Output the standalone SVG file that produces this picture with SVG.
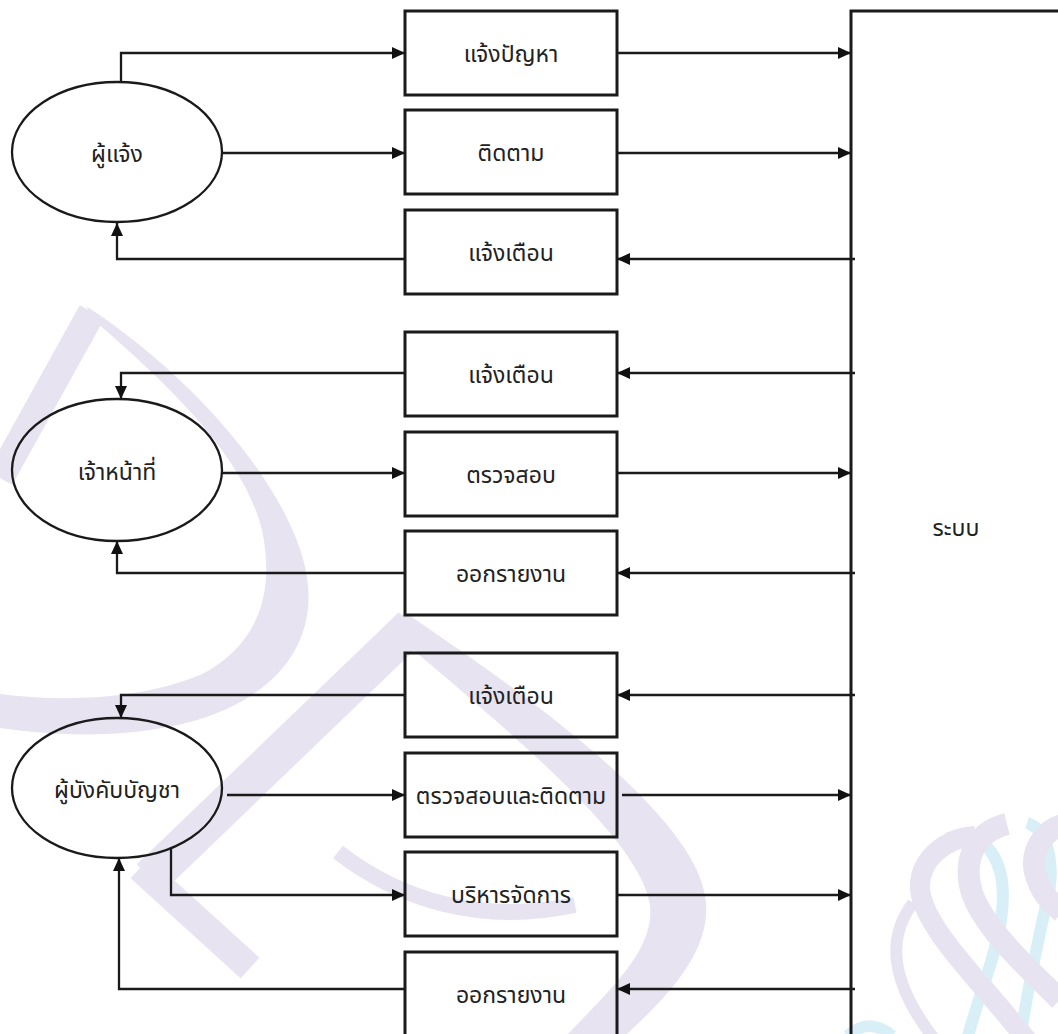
<svg xmlns="http://www.w3.org/2000/svg" width="1058" height="1034" viewBox="0 0 1058 1034">
<defs>
<marker id="ah" markerUnits="userSpaceOnUse" markerWidth="13" markerHeight="12" refX="13" refY="6" orient="auto"><path d="M0,0 L13,6 L0,12 Z" fill="#111"/></marker>
<style>
.box{fill:none;stroke:#1a1a1a;stroke-width:3}
.ell{fill:none;stroke:#1a1a1a;stroke-width:2.3}
.cn{fill:none;stroke:#1a1a1a;stroke-width:2.3}
.t{font-family:"Noto Sans Thai","Leelawadee UI",Tahoma,"Noto Sans","DejaVu Sans",sans-serif;font-size:23px;fill:#222;text-anchor:middle}
.wp{fill:#e7e3f0}
.ws{fill:none;stroke:#e7e3f0;stroke-linecap:butt}
.wc{fill:none;stroke:#d9eff8;stroke-linecap:butt}
</style>
</defs>
<rect width="1058" height="1034" fill="#ffffff"/>
<g id="watermark">
<path class="wp" d="M86 306 C200 380 300 500 308 585 C314 650 270 700 190 722 C120 740 50 735 0 728 L0 694 C60 702 140 700 200 675 C260 645 275 590 262 530 C245 460 175 390 96 322 Z"/>
<path class="ws" stroke-width="28" d="M92 312 L0 478"/>
<path class="wp" d="M404 612 C520 690 690 810 705 895 C715 950 665 1000 620 1040 L562 1040 C610 990 655 950 650 905 C640 840 520 740 392 632 Z"/>
<path class="ws" stroke-width="38" d="M412 626 L150 878"/>
<path class="ws" stroke-width="28" d="M140 868 L250 968"/>
<path class="ws" stroke-width="16" d="M338 852 C400 900 480 925 575 905"/>
<path class="wc" stroke-width="12" d="M948 838 C985 828 1010 860 1001 920 C995 960 977 1000 967 1040"/>
<path class="wc" stroke-width="12" d="M1027 823 C1050 830 1056 870 1046 905 C1036 950 1026 1000 1020 1040"/>
<path class="wc" stroke-width="12" d="M848 1036 C860 1024 876 1022 892 1036"/>
<path class="ws" stroke-width="12" d="M913 903 C885 940 892 985 935 1040"/>
<path class="ws" stroke-width="20" d="M1027 1040 C980 980 925 930 920 890 C918 860 945 838 975 836"/>
<path class="ws" stroke-width="22" d="M1007 824 C975 832 962 860 972 893 C985 930 1030 970 1060 1000"/>
<path class="ws" stroke-width="22" d="M1062 825 C1045 830 1030 850 1035 872 C1040 892 1050 902 1062 912"/>
</g>
<g id="connectors">
<path class="cn" d="M121 82 V53 H405" marker-end="url(#ah)"/>
<path class="cn" d="M222 153 H405" marker-end="url(#ah)"/>
<path class="cn" d="M405 259 H117 V223" marker-end="url(#ah)"/>
<path class="cn" d="M617 53 H851" marker-end="url(#ah)"/>
<path class="cn" d="M617 153 H851" marker-end="url(#ah)"/>
<path class="cn" d="M855 259 H617" marker-end="url(#ah)"/>
<path class="cn" d="M405 373 H121 V399" marker-end="url(#ah)"/>
<path class="cn" d="M222 473 H405" marker-end="url(#ah)"/>
<path class="cn" d="M405 573 H117 V541" marker-end="url(#ah)"/>
<path class="cn" d="M855 373 H617" marker-end="url(#ah)"/>
<path class="cn" d="M617 473 H851" marker-end="url(#ah)"/>
<path class="cn" d="M855 573 H617" marker-end="url(#ah)"/>
<path class="cn" d="M405 695 H121 V718" marker-end="url(#ah)"/>
<path class="cn" d="M227 795 H405" marker-end="url(#ah)"/>
<path class="cn" d="M171 848 V895 H405" marker-end="url(#ah)"/>
<path class="cn" d="M405 989 H119 V858" marker-end="url(#ah)"/>
<path class="cn" d="M855 695 H617" marker-end="url(#ah)"/>
<path class="cn" d="M622 795 H851" marker-end="url(#ah)"/>
<path class="cn" d="M617 895 H851" marker-end="url(#ah)"/>
<path class="cn" d="M855 989 H617" marker-end="url(#ah)"/>
</g>
<g id="system"><rect class="box" x="851" y="11" width="300" height="1100"/><text class="t" x="956" y="536">ระบบ</text></g>
<g id="user"><ellipse class="ell" cx="117" cy="152" rx="105" ry="70"/><text class="t" x="117" y="162">ผู้แจ้ง</text></g>
<g id="officer"><ellipse class="ell" cx="117" cy="470" rx="105" ry="71"/><text class="t" x="117" y="480">เจ้าหน้าที่</text></g>
<g id="commander"><ellipse class="ell" cx="117" cy="788" rx="105" ry="70"/><text class="t" x="117" y="798">ผู้บังคับบัญชา</text></g>
<g id="b1"><rect class="box" x="405" y="11" width="212" height="84"/><text class="t" x="511" y="62">แจ้งปัญหา</text></g>
<g id="b2"><rect class="box" x="405" y="110" width="212" height="84"/><text class="t" x="511" y="161">ติดตาม</text></g>
<g id="b3"><rect class="box" x="405" y="210" width="212" height="84"/><text class="t" x="511" y="261">แจ้งเตือน</text></g>
<g id="b4"><rect class="box" x="405" y="332" width="212" height="84"/><text class="t" x="511" y="383">แจ้งเตือน</text></g>
<g id="b5"><rect class="box" x="405" y="432" width="212" height="84"/><text class="t" x="511" y="483">ตรวจสอบ</text></g>
<g id="b6"><rect class="box" x="405" y="531" width="212" height="84"/><text class="t" x="511" y="582">ออกรายงาน</text></g>
<g id="b7"><rect class="box" x="405" y="653" width="212" height="84"/><text class="t" x="511" y="704">แจ้งเตือน</text></g>
<g id="b8"><rect class="box" x="405" y="753" width="212" height="84"/><text class="t" x="511" y="804">ตรวจสอบและติดตาม</text></g>
<g id="b9"><rect class="box" x="405" y="852" width="212" height="84"/><text class="t" x="511" y="903">บริหารจัดการ</text></g>
<g id="b10"><rect class="box" x="405" y="952" width="212" height="100"/><text class="t" x="511" y="1003">ออกรายงาน</text></g>
</svg>
